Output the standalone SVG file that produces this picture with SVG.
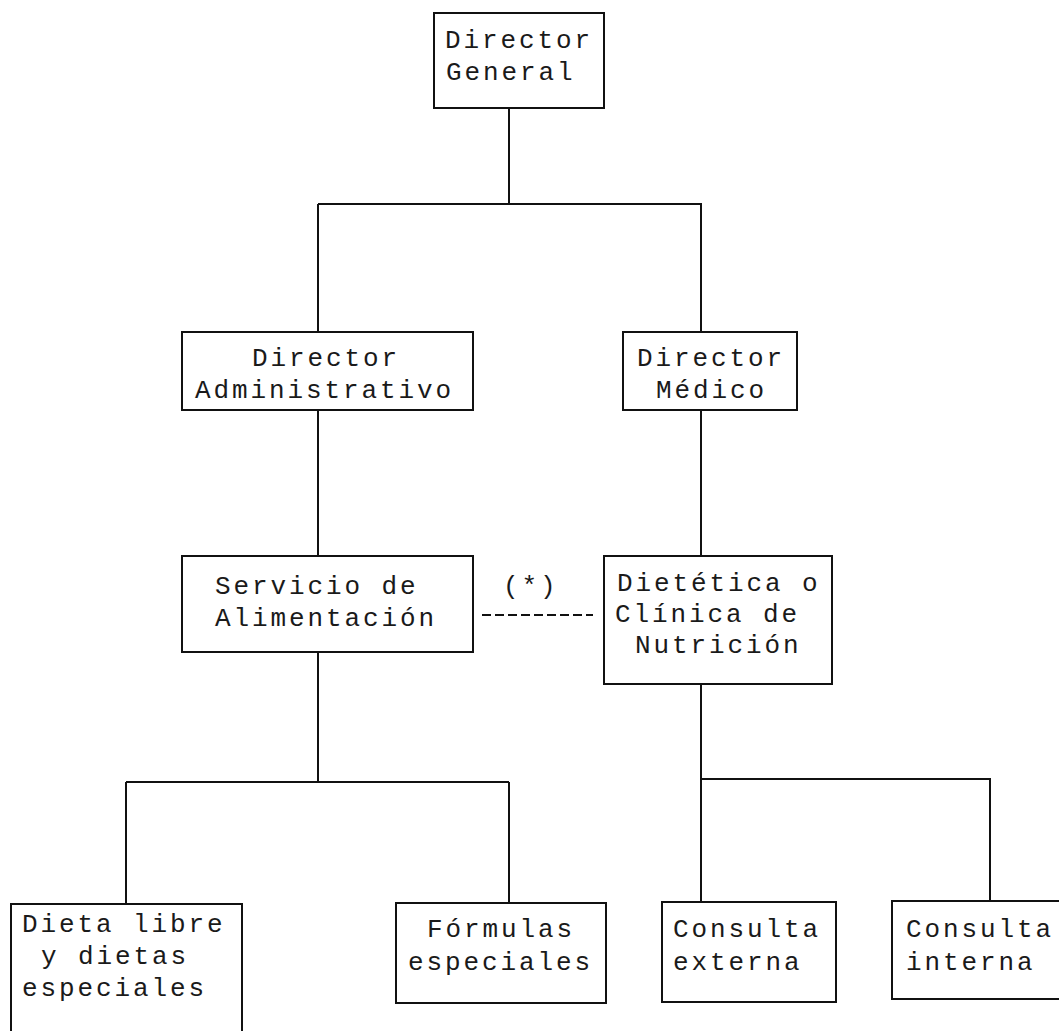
<svg xmlns="http://www.w3.org/2000/svg" width="1059" height="1031" viewBox="0 0 1059 1031">
<style>
  .box { fill: #ffffff; stroke: #111111; stroke-width: 2; }
  .t { font-family: "Liberation Mono", "DejaVu Sans Mono", monospace; font-size: 26px; letter-spacing: 2.9px; fill: #1a1a1a; }
  .ln { fill: none; stroke: #111111; stroke-width: 2; }
  .dash { fill: none; stroke: #111111; stroke-width: 2; stroke-dasharray: 9 4; }
</style>
<rect width="1059" height="1031" fill="#ffffff"/>
<g id="connectors">
  <path class="ln" d="M509 108 V204 M318 204 H702 M318 204 V332 M701 204 V332"/>
  <path class="ln" d="M318 410 V556 M701 410 V556"/>
  <path class="ln" d="M318 652 V782 M126 782 H509 M126 782 V904 M509 782 V903"/>
  <path class="ln" d="M701 684 V902 M701 779 H990 V901"/>
  <path class="dash" d="M482 615 H593"/>
  <text class="t" x="503" y="594">(*)</text>
</g>
<g id="director-general">
  <rect class="box" x="434" y="13" width="170" height="95"/>
  <text class="t" x="445" y="48">Director</text>
  <text class="t" x="446" y="80">General</text>
</g>
<g id="director-administrativo">
  <rect class="box" x="182" y="332" width="291" height="78"/>
  <text class="t" x="252" y="366">Director</text>
  <text class="t" x="195" y="398">Administrativo</text>
</g>
<g id="director-medico">
  <rect class="box" x="623" y="332" width="174" height="78"/>
  <text class="t" x="637" y="366">Director</text>
  <text class="t" x="656" y="398">Médico</text>
</g>
<g id="servicio-alimentacion">
  <rect class="box" x="182" y="556" width="291" height="96"/>
  <text class="t" x="215" y="594">Servicio de</text>
  <text class="t" x="215" y="626">Alimentación</text>
</g>
<g id="dietetica">
  <rect class="box" x="604" y="556" width="228" height="128"/>
  <text class="t" x="617" y="591">Dietética o</text>
  <text class="t" x="615" y="622">Clínica de</text>
  <text class="t" x="635" y="653">Nutrición</text>
</g>
<g id="dieta-libre">
  <rect class="box" x="11" y="904" width="231" height="140"/>
  <text class="t" x="22" y="932">Dieta libre</text>
  <text class="t" x="41" y="964">y dietas</text>
  <text class="t" x="22" y="996">especiales</text>
</g>
<g id="formulas-especiales">
  <rect class="box" x="396" y="903" width="210" height="100"/>
  <text class="t" x="427" y="937">Fórmulas</text>
  <text class="t" x="408" y="970">especiales</text>
</g>
<g id="consulta-externa">
  <rect class="box" x="662" y="902" width="174" height="100"/>
  <text class="t" x="673" y="937">Consulta</text>
  <text class="t" x="673" y="970">externa</text>
</g>
<g id="consulta-interna">
  <rect class="box" x="892" y="901" width="180" height="98"/>
  <text class="t" x="906" y="937">Consulta</text>
  <text class="t" x="906" y="970">interna</text>
</g>
</svg>
